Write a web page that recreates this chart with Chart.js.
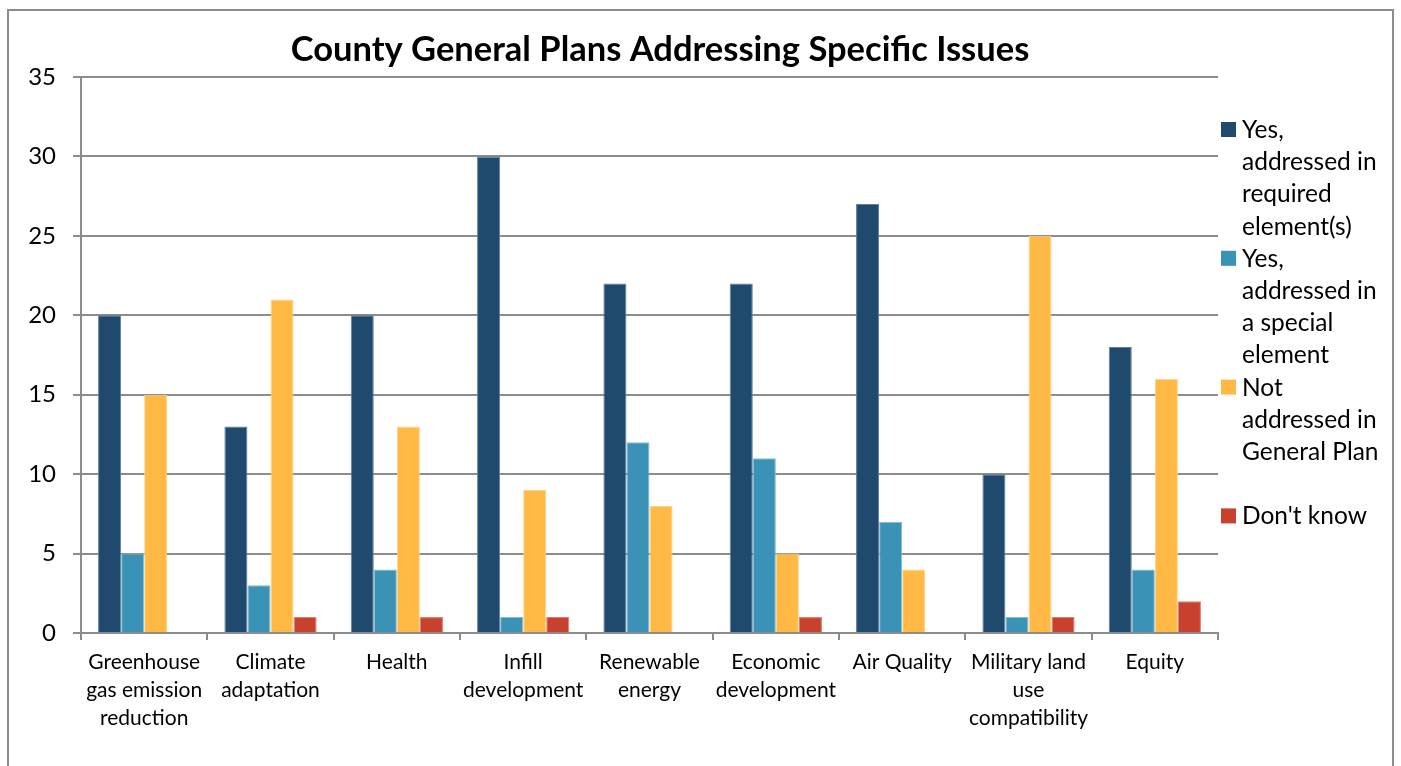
<!DOCTYPE html>
<html>
<head>
<meta charset="utf-8">
<script src="https://cdn.jsdelivr.net/npm/chart.js@4"></script>
<style>
  body { margin: 0; background: #fff; }
  #frame { position: absolute; left: 7px; top: 9px; width: 1387px; height: 800px; border: 2px solid #8c8c8c; box-sizing: border-box; pointer-events: none; }
  canvas { position: absolute; left: 0; top: 0; }
</style>
</head>
<body>
<canvas id="chart" width="1401" height="766"></canvas>
<div id="frame"></div>
<script>
const FONT = "Lato, 'Open Sans', sans-serif";

const categories = [
  ["Greenhouse", "gas emission", "reduction"],
  ["Climate", "adaptation"],
  ["Health"],
  ["Infill", "development"],
  ["Renewable", "energy"],
  ["Economic", "development"],
  ["Air Quality"],
  ["Military land", "use", "compatibility"],
  ["Equity"]
];

const seriesNames = [
  "Yes, addressed in required element(s)",
  "Yes, addressed in a special element",
  "Not addressed in General Plan",
  "Don't know"
];
const legendLines = [
  ["Yes,", "addressed in", "required", "element(s)"],
  ["Yes,", "addressed in", "a special", "element"],
  ["Not", "addressed in", "General Plan", ""],
  ["Don't know"]
];
const colors = ["#1f4a6e", "#3a93b6", "#ffb944", "#c8412f"];
const edgeColors = ["#5f7f9c", "#86bcd2", "#ffd48a", "#dc7d70"];

const requiredElement = [20, 13, 20, 30, 22, 22, 27, 10, 18];
const specialElement  = [5, 3, 4, 1, 12, 11, 7, 1, 4];
const notAddressed    = [15, 21, 13, 9, 8, 5, 4, 25, 16];
const dontKnow        = [0, 1, 1, 1, 0, 1, 0, 1, 2];

const yTicks = [0, 5, 10, 15, 20, 25, 30, 35];
const title = "County General Plans Addressing Specific Issues";

const values = [requiredElement, specialElement, notAddressed, dontKnow];

// title + wrapped legend drawn by hand (Chart.js legend can't wrap)
const extras = {
  id: 'extras',
  afterDraw(chart) {
    const ctx = chart.ctx;
    ctx.save();
    ctx.fillStyle = '#000';
    ctx.font = "bold 34.5px " + FONT;
    ctx.textAlign = 'center';
    ctx.textBaseline = 'middle';
    ctx.fillText(title, 660, 50);

    ctx.font = "24.5px " + FONT;
    ctx.textAlign = 'left';
    let y = 130;
    legendLines.forEach((lines, i) => {
      ctx.fillStyle = colors[i];
      ctx.fillRect(1221, y - 8, 15, 15);
      ctx.fillStyle = '#000';
      lines.forEach(line => {
        ctx.fillText(line, 1242, y);
        y += 32.2;
      });
    });
    ctx.restore();
  }
};

new Chart(document.getElementById('chart'), {
  type: 'bar',
  data: {
    labels: categories,
    datasets: values.map((v, i) => ({
      label: seriesNames[i],
      data: v,
      backgroundColor: colors[i],
      borderColor: edgeColors[i],
      borderWidth: 1,
      categoryPercentage: 0.73,
      barPercentage: 1
    }))
  },
  plugins: [extras],
  options: {
    responsive: false,
    animation: false,
    layout: { padding: { top: 77, right: 183, left: 0, bottom: 0 } },
    plugins: {
      legend: { display: false },
      title: { display: false },
      tooltip: { enabled: false }
    },
    scales: {
      x: {
        afterFit: s => { s.height = 133; },
        grid: {
          offset: true,
          drawOnChartArea: false,
          color: '#8c8c8c',
          lineWidth: 2,
          tickLength: 7
        },
        border: { color: '#8c8c8c', width: 2 },
        ticks: {
          color: '#000',
          font: { family: FONT, size: 21, lineHeight: 1.33 },
          maxRotation: 0,
          autoSkip: false,
          padding: 8
        }
      },
      y: {
        min: 0,
        max: 35,
        afterFit: s => { s.width = 81; },
        afterBuildTicks: s => { s.ticks = yTicks.map(v => ({ value: v })); },
        grid: {
          color: '#8c8c8c',
          lineWidth: 2,
          tickLength: 8
        },
        border: { color: '#8c8c8c', width: 2 },
        ticks: {
          color: '#000',
          font: { family: FONT, size: 24 },
          padding: 17
        }
      }
    }
  }
});
</script>
</body>
</html>
